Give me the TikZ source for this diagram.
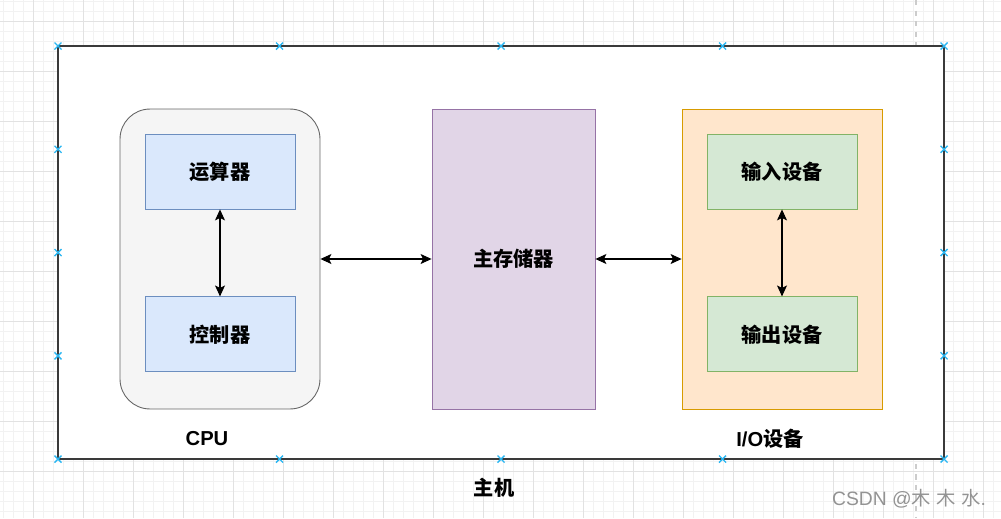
\documentclass[tikz,border=0pt]{standalone}
\usepackage{fontspec}
\setmainfont{Liberation Sans}
\newfontfamily\cjk{Noto Sans CJK SC}
\usepackage{tikz}
\usetikzlibrary{arrows.meta,positioning}

\definecolor{gridMinor}{HTML}{F2F2F2}
\definecolor{gridMajor}{HTML}{E2E2E2}
\definecolor{hostLine}{HTML}{3A3A3A}
\definecolor{cpuFill}{HTML}{F5F5F5}
\definecolor{cpuLine}{HTML}{666666}
\definecolor{blueFill}{HTML}{DAE8FC}
\definecolor{blueLine}{HTML}{6C8EBF}
\definecolor{memFill}{HTML}{E1D5E7}
\definecolor{memLine}{HTML}{9673A6}
\definecolor{ioFill}{HTML}{FFE6CC}
\definecolor{ioLine}{HTML}{D79B00}
\definecolor{greenFill}{HTML}{D5E8D4}
\definecolor{greenLine}{HTML}{82B366}
\definecolor{handle}{HTML}{29B6F2}

\begin{document}
\begin{tikzpicture}[x=0.02cm,y=-0.02cm,
    >={Stealth[length=2.2mm,width=2mm,inset=0.5mm]},
    label font/.style={font=\cjk\bfseries\fontsize{11.5}{14}\selectfont},
    unit/.style={draw,line width=0.5pt,minimum width=3cm,minimum height=1.5cm,
        inner sep=0pt,label font},
    frame/.style={draw,line width=0.5pt,minimum width=4cm,minimum height=6cm,inner sep=0pt},
    link/.style={<->,line width=0.6pt},
    handlemark/.style={handle,line width=0.8pt}]

    \useasboundingbox (0,0) rectangle (1001,518);

    % background grid
    \foreach \i in {3,13,...,1003}
        \draw[gridMinor,line width=0.4pt] (\i,0) -- (\i,518);
    \foreach \j in {1.7,11.7,...,520}
        \draw[gridMinor,line width=0.4pt] (0,\j) -- (1001,\j);
    \foreach \i in {33,83,...,1003}
        \draw[gridMajor,line width=0.5pt] (\i,0) -- (\i,518);
    \foreach \j in {21.7,71.7,...,520}
        \draw[gridMajor,line width=0.5pt] (0,\j) -- (1001,\j);
    \draw[gray!40,line width=1pt,dash pattern=on 3pt off 3pt] (916,0) -- (916,518);

    % host
    \node[draw=hostLine,fill=white,line width=0.8pt,minimum width=17.72cm,
        minimum height=8.26cm,inner sep=0pt] (host) at (501,252.5) {};

    \node[frame,draw=cpuLine,fill=cpuFill,rounded corners=0.6cm] (cpu) at (220,259) {};
    \node[unit,draw=blueLine,fill=blueFill] (alu) at (220,171.5) {运算器};
    \node[unit,draw=blueLine,fill=blueFill,below=1.74cm of alu] (ctrl) {控制器};

    \node[frame,draw=memLine,fill=memFill,minimum width=3.26cm,label font] (mem)
        at (513.5,259) {主存储器};

    \node[frame,draw=ioLine,fill=ioFill] (io) at (782,259) {};
    \node[unit,draw=greenLine,fill=greenFill] (in) at (782,171.5) {输入设备};
    \node[unit,draw=greenLine,fill=greenFill,below=1.74cm of in] (out) {输出设备};

    \node[label font] (cpulabel) at (207,439) {\rmfamily\bfseries CPU};
    \node[label font] (iolabel) at (770,439) {\rmfamily\bfseries I/O\cjk 设备};
    \node[label font] (hostlabel) at (494,488) {主机};

    \path (alu) edge[link] (ctrl)
          (in) edge[link] (out)
          (cpu) edge[link] (mem)
          (mem) edge[link] (io);

    % connection handles
    \foreach \x in {58,279.5,501,722.5,944}
        \foreach \y in {46,459}
            \draw[handlemark] (\x-3.5,\y-3.5) -- (\x+3.5,\y+3.5) (\x-3.5,\y+3.5) -- (\x+3.5,\y-3.5);
    \foreach \x in {58,944}
        \foreach \y in {149.25,252.5,355.75}
            \draw[handlemark] (\x-3.5,\y-3.5) -- (\x+3.5,\y+3.5) (\x-3.5,\y+3.5) -- (\x+3.5,\y-3.5);

    \node[text=gray!85,font=\fontsize{11}{13}\selectfont] (mark) at (909,499)
        {CSDN @{\cjk 木} {\cjk 木} {\cjk 水}.};
\end{tikzpicture}
\end{document}
